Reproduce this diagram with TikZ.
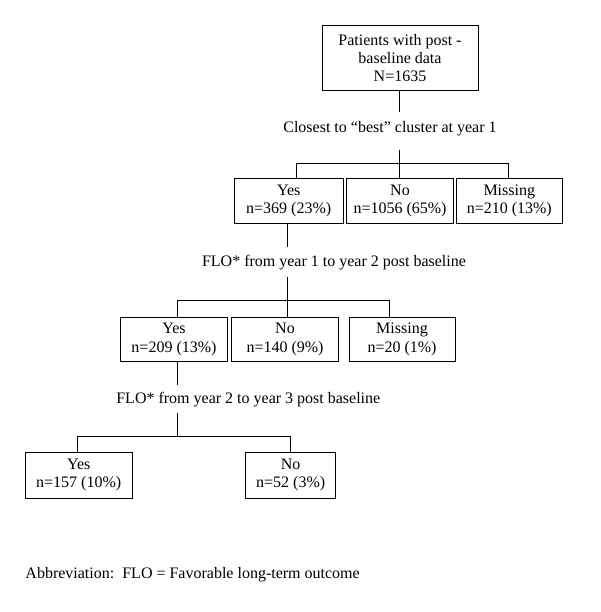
\documentclass[tikz,border=0pt]{standalone}
\usepackage{fontspec}
\setmainfont{Liberation Serif}
\begin{document}
\begin{tikzpicture}[x=1pt,y=-1pt,line width=0.9pt,
  box/.style={draw,align=center,inner sep=0pt,font=\fontsize{16}{18.3}\selectfont},
  lbl/.style={inner sep=0pt,anchor=base,font=\fontsize{16}{18.3}\selectfont}]
\useasboundingbox (0,0) rectangle (600,612);
% top
\node[box,minimum width=156pt,minimum height=65pt] (top) at (400,58.2) {Patients with post -\\baseline data\\N=1635};
\node[lbl] (q1) at (390,133) {Closest to “best” cluster at year 1};
\node[box,minimum width=109pt,minimum height=45pt] (y1) at (288.7,200.8) {Yes\\n=369 (23\%)};
\node[box,minimum width=106.7pt,minimum height=45pt] (n1) at (400,200.8) {No\\n=1056 (65\%)};
\node[box,minimum width=106.7pt,minimum height=45pt] (m1) at (509.3,200.8) {Missing\\n=210 (13\%)};
\coordinate (a1) at (399,112);
\coordinate (b1) at (399,150);
\coordinate (hl1) at (296,163);
\coordinate (hc1) at (399,163);
\coordinate (hr1) at (508.3,163);
\draw (top.south -| a1) -- (a1);
\draw (b1) -- (hc1);
\draw (hl1) -- (hr1);
\draw (hl1) -- (hl1 |- y1.north);
\draw (hc1) -- (hc1 |- n1.north);
\draw (hr1) -- (hr1 |- m1.north);
% level 2
\node[lbl] (q2) at (334,266.7) {FLO* from year 1 to year 2 post baseline};
\node[box,minimum width=106.6pt,minimum height=44.4pt] (y2) at (174,339.5) {Yes\\n=209 (13\%)};
\node[box,minimum width=106.6pt,minimum height=44.4pt] (n2) at (285,339.5) {No\\n=140 (9\%)};
\node[box,minimum width=106pt,minimum height=44.4pt] (m2) at (402,339.5) {Missing\\n=20 (1\%)};
\coordinate (a2) at (287,246.7);
\coordinate (b2) at (287,276.7);
\coordinate (hl2) at (177.3,300);
\coordinate (hc2) at (287,300);
\coordinate (hr2) at (389.3,300);
\draw (a2 |- y1.south) -- (a2);
\draw (b2) -- (hc2);
\draw (hl2) -- (hr2);
\draw (hl2) -- (hl2 |- y2.north);
\draw (hc2) -- (hc2 |- n2.north);
\draw (hr2) -- (hr2 |- m2.north);
% level 3
\node[lbl] (q3) at (248.3,403) {FLO* from year 2 to year 3 post baseline};
\node[box,minimum width=107.3pt,minimum height=46pt] (y3) at (78.7,475.3) {Yes\\n=157 (10\%)};
\node[box,minimum width=90pt,minimum height=46pt] (n3) at (290.7,475.3) {No\\n=52 (3\%)};
\coordinate (a3) at (177,385);
\coordinate (b3) at (177,413);
\coordinate (hl3) at (77.3,436.7);
\coordinate (hc3) at (177,436.7);
\coordinate (hr3) at (290.7,436.7);
\draw (a3 |- y2.south) -- (a3);
\draw (b3) -- (hc3);
\draw (hl3) -- (hr3);
\draw (hl3) -- (hl3 |- y3.north);
\draw (hr3) -- (hr3 |- n3.north);
% footnote
\node[lbl,anchor=base west] (ab) at (25,578) {Abbreviation:\ \ FLO = Favorable long-term outcome};
\end{tikzpicture}
\end{document}
